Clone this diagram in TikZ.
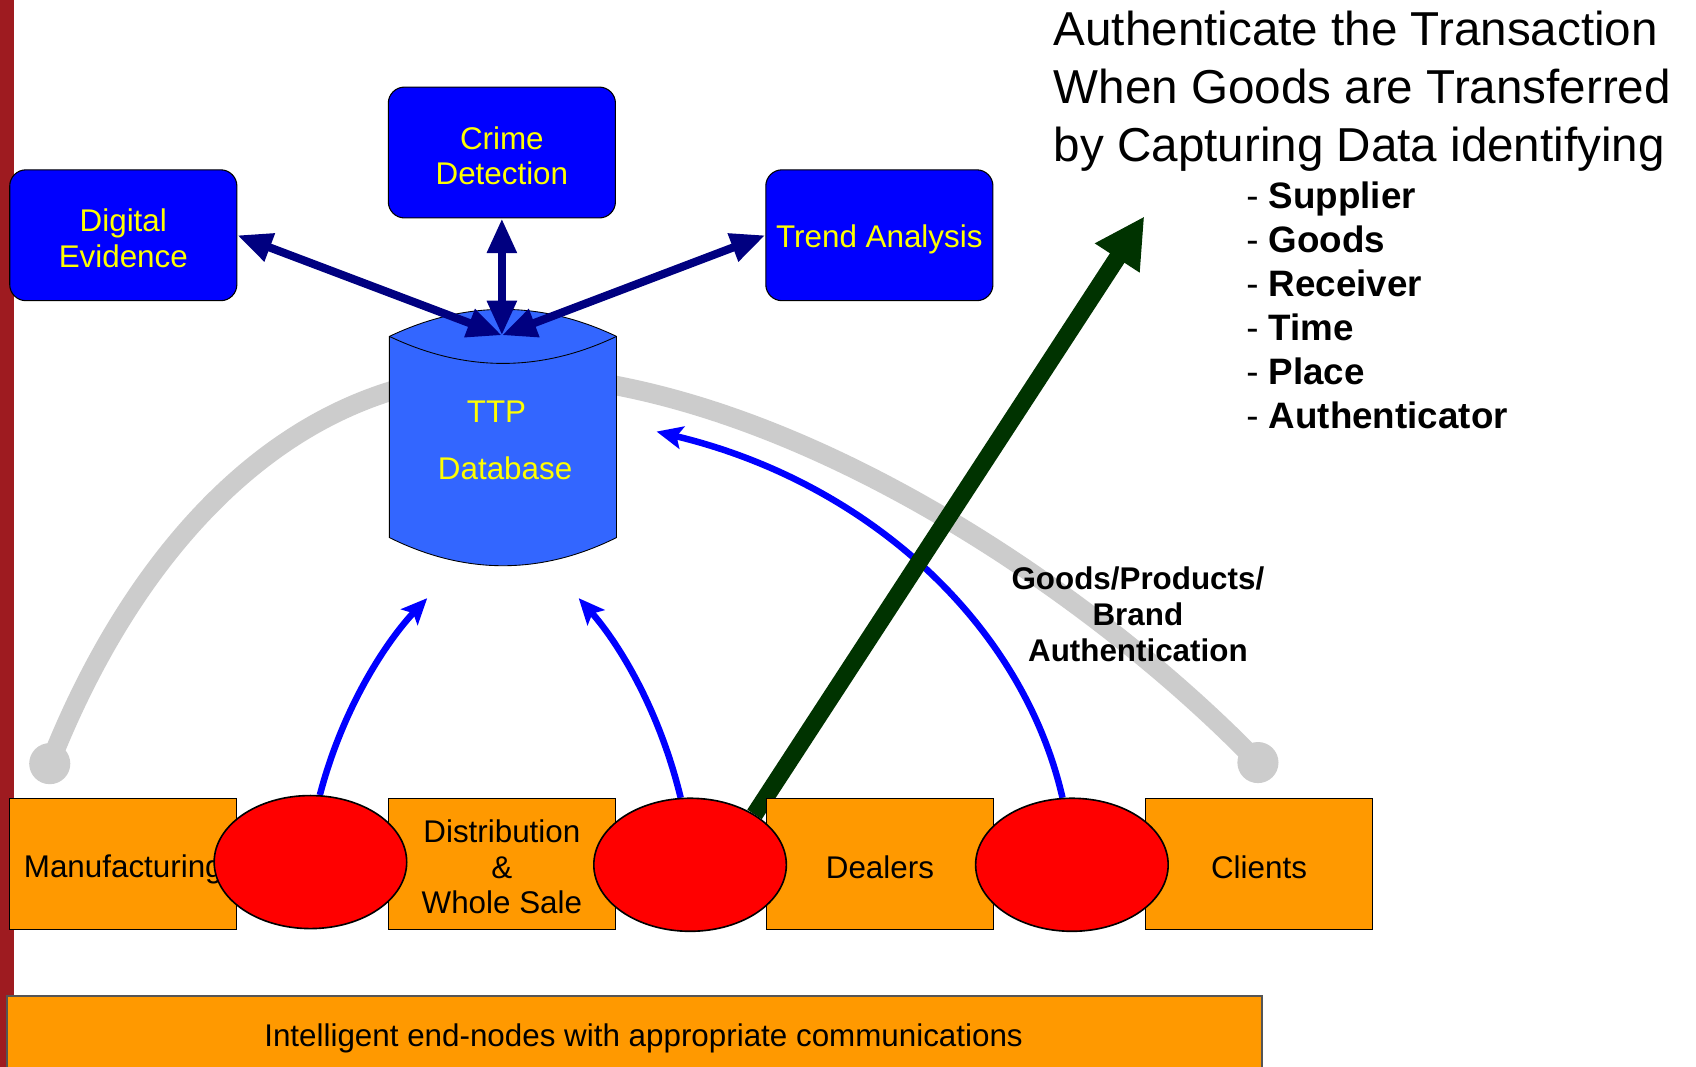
\documentclass[tikz,border=0pt]{standalone}
\usepackage{fontspec}
\setmainfont{Liberation Sans}
\usetikzlibrary{arrows.meta,shapes.geometric}

\definecolor{boxblue}{HTML}{0000FF}
\definecolor{dbblue}{HTML}{3366FF}
\definecolor{navylink}{HTML}{000080}
\definecolor{stageorange}{HTML}{FF9900}
\definecolor{linkred}{HTML}{FF0000}
\definecolor{arcgray}{HTML}{CCCCCC}
\definecolor{deepgreen}{HTML}{003300}
\definecolor{barred}{HTML}{9E1B20}
\definecolor{labelyellow}{HTML}{FFFF00}
\definecolor{bannerline}{HTML}{555555}

\begin{document}
\begin{tikzpicture}[x=1pt, y=-1pt,
  service/.style={draw=black, line width=1pt, fill=boxblue, rounded corners=15pt,
    minimum width=210pt, minimum height=121pt, inner sep=0pt},
  stagebox/.style={draw=black, line width=0.8pt, fill=stageorange,
    minimum width=210pt, minimum height=121pt, inner sep=0pt},
  svctext/.style={inner sep=0pt, text=labelyellow, align=center,
    font=\fontsize{29}{33}\selectfont},
  stagetext/.style={inner sep=0pt, align=center, font=\fontsize{29}{33}\selectfont},
  linknode/.style={ellipse, draw=black, line width=1.5pt, fill=linkred,
    minimum width=178pt, minimum height=123pt, inner sep=0pt},
  ball/.style={circle, fill=arcgray, minimum size=38pt, inner sep=0pt},
  grayarc/.style={draw=arcgray, line width=18pt},
  navyarrow/.style={draw=navylink, line width=7.5pt,
    {Triangle[length=32pt,width=26pt]}-{Triangle[length=32pt,width=26pt]}},
  bluearc/.style={draw=boxblue, line width=6pt,
    -{Stealth[length=24pt,width=21pt,inset=5pt]}},
  greenarrow/.style={draw=deepgreen, line width=16pt,
    -{Triangle[length=46pt,width=46pt]}},
  headline/.style={anchor=base west, inner sep=0pt, font=\fontsize{44}{54}\selectfont},
  itemline/.style={anchor=base west, inner sep=0pt, font=\fontsize{34}{41}\selectfont},
  dblabel/.style={inner sep=0pt, text=labelyellow, font=\fontsize{29}{33}\selectfont}
]
\useasboundingbox (0,0) rectangle (1568,986);
\fill[white] (0,0) rectangle (1568,986);

% left margin bar
\fill[barred] (0,0) rectangle (13,986);

% grey supply-chain arc with its end balls
\node[ball] (ballL) at (46,706) {};
\node[ball] (ballR) at (1163,705) {};
\draw[grayarc] (ballL.center) .. controls (123,510) and (265,346) .. (465,346)
  .. controls (715,346) and (1007,543) .. (ballR.center);

% TTP database cylinder
\fill[dbblue] (360,311) .. controls (430,277.7) and (500,277.7) .. (570,311) -- (570,497)
  .. controls (500,531.7) and (430,531.7) .. (360,497) -- cycle;
\draw[black, line width=0.8pt] (360,311) .. controls (430,277.7) and (500,277.7) .. (570,311)
  -- (570,497) .. controls (500,531.7) and (430,531.7) .. (360,497) -- cycle;
\draw[black, line width=0.8pt] (360,311) .. controls (430,344.3) and (500,344.3) .. (570,311);
\node[dblabel] (ttp) at (459,381) {TTP};
\node[dblabel] (dbname) at (467,433) {Database};
\coordinate (dbtop) at (464,310);

% services fed by the database
\node[service] (digital) at (114,217.5) {};
\node[service] (crime) at (464,141) {};
\node[service] (trend) at (813,217.5) {};
\node[svctext] (digital-t) at ([yshift=-3pt]digital.center) {Digital\\Evidence};
\node[svctext] (crime-t) at ([yshift=-3pt]crime.center) {Crime\\Detection};
\node[svctext] (trend-t) at ([yshift=-4pt]trend.center) {Trend Analysis};

\draw[navyarrow] (dbtop) -- (digital.east);
\draw[navyarrow] (dbtop) -- (crime.south);
\draw[navyarrow] (dbtop) -- (trend.west);

% end-node links reporting to the database
\node[linknode, draw=none, fill=none] (e1) at (287,797) {};
\node[linknode, draw=none, fill=none] (e2) at (638,799.5) {};
\node[linknode, draw=none, fill=none] (e3) at (991,799.5) {};
\coordinate (in1) at (395,553);
\coordinate (in2) at (535,553);
\coordinate (in3) at (607,399);
\coordinate (gtip) at (1058,200);

\draw[bluearc] (e1.82) .. controls (318,650) and (360,590) .. (in1);
\draw[bluearc] (e2.98) .. controls (608,650) and (568,590) .. (in2);
\draw[bluearc] (e3.98) .. controls (945,575) and (800,445) .. (in3);

\draw[greenarrow] (e2.38) -- (gtip);

% supply chain stages
\node[stagebox] (manuf) at (114,798.5) {};
\node[stagebox] (distrib) at (464,798.5) {};
\node[stagebox] (dealers) at (813.5,798.5) {};
\node[stagebox] (clients) at (1164,798.5) {};
\node[stagetext] (manuf-t) at ([yshift=-5pt]manuf.center) {Manufacturing};
\node[stagetext] (distrib-t) at ([yshift=-3pt]distrib.center) {Distribution\\\&\\Whole Sale};
\node[stagetext] (dealers-t) at ([yshift=-3pt]dealers.center) {Dealers};
\node[stagetext] (clients-t) at ([yshift=-3pt]clients.center) {Clients};

\node[linknode] (r1) at (e1) {};
\node[linknode] (r2) at (e2) {};
\node[linknode] (r3) at (e3) {};

% labels
\node[align=center, inner sep=0pt, font=\fontsize{29}{33.5}\selectfont\bfseries] (auth)
  at (1052,568) {Goods/Products/\\Brand\\Authentication};

\node[headline] (h1) at (974,42) {Authenticate the Transaction};
\node[headline] (h2) at (974,96) {When Goods are Transferred};
\node[headline] (h3) at (974,149) {by Capturing Data identifying};

\node[itemline] (i1) at (1152,193) {- \textbf{Supplier}};
\node[itemline] (i2) at (1152,233.6) {- \textbf{Goods}};
\node[itemline] (i3) at (1152,274.2) {- \textbf{Receiver}};
\node[itemline] (i4) at (1152,314.8) {- \textbf{Time}};
\node[itemline] (i5) at (1152,355.4) {- \textbf{Place}};
\node[itemline] (i6) at (1152,396) {- \textbf{Authenticator}};

% bottom banner
\node[draw=bannerline, line width=1.5pt, fill=stageorange, anchor=north west,
  minimum width=1160pt, minimum height=90pt, inner sep=0pt] (banner) at (6,920) {};
\node[inner sep=0pt, font=\fontsize{29}{33}\selectfont] (bannertext) at (595,960)
  {Intelligent end-nodes with appropriate communications};
\end{tikzpicture}
\end{document}
